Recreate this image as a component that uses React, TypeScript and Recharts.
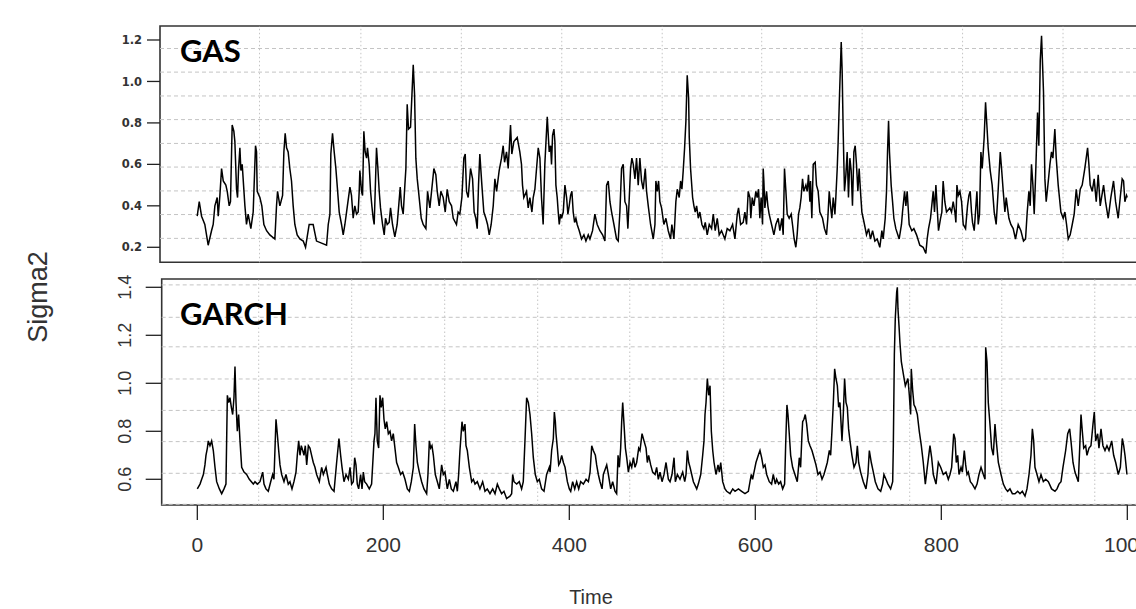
import { LineChart, Line, XAxis, YAxis, ReferenceLine, ReferenceArea } from 'recharts'

// GAS filtered variance, [time, sigma2]
const gasPoints: [number, number][] = [
  [0,.35],[2.2,.42],[4.7,.35],[8.2,.31],[11.8,.21],[15.4,.28],[17.2,.31],[19,.40],[21.5,.44],[22.6,.35],[24.4,.45],[26.2,.58],[28,.52],[30.8,.50],[32.3,.47],[34.4,.40],[35.8,.42],[37.6,.79],[39.4,.76],[40.5,.71],[42.3,.48],[43.4,.44],[44.4,.57],[45.9,.68],[47,.57],[48.4,.60],[51.3,.40],[53,.31],[54.8,.36],[57.7,.29],[60.2,.37],[62.7,.69],[63.8,.66],[64.5,.47],[67.4,.44],[69.5,.40],[71.7,.31],[74.6,.28],[78.1,.26],[83.5,.24],[85.3,.40],[86.4,.47],[88.9,.40],[91.8,.45],[93.2,.66],[94.6,.75],[96.1,.68],[97.8,.66],[99.6,.58],[101.4,.52],[103.2,.40],[105,.31],[107.5,.26],[110.4,.24],[114,.23],[116.5,.20],[118.6,.26],[120.4,.31],[124.7,.31],[126.5,.27],[128.3,.23],[133.7,.22],[139.1,.21],[140.9,.31],[142.7,.36],[143.7,.65],[145.5,.75],[147.3,.66],[149.1,.58],[150.5,.50],[152.7,.37],[155.2,.31],[157,.26],[158.8,.31],[160.6,.37],[164.2,.49],
  [165.9,.45],[167.7,.34],[169.5,.40],[171.3,.36],[173.1,.37],[174.2,.47],[174.9,.57],[176.7,.47],[177.8,.45],[179.2,.76],[180.6,.66],[182.1,.63],[183.1,.68],[184.9,.60],[186.4,.47],[187.8,.40],[189.2,.34],[190.3,.31],[191.4,.47],[192.8,.68],[194.3,.58],[195.7,.47],[197.1,.39],[199.3,.31],[201.1,.26],[202.5,.34],[204.3,.31],[206.4,.32],[207.9,.39],[210,.31],[212.5,.25],[215,.31],[216.5,.39],[218.3,.49],[219.7,.40],[221.5,.36],[223.3,.50],[224.4,.58],[225.8,.89],[227.2,.77],[229.4,.78],[232.3,1.08],[233.7,.94],[235.1,.63],[236.6,.53],[238,.47],[240.9,.34],[243,.31],[245.9,.29],[247.7,.47],[250.2,.39],[252,.47],[254.5,.58],[256.6,.55],[258.1,.47],[260.2,.40],[262,.47],[264.5,.44],[266.7,.37],[268.8,.48],[271,.42],[273.5,.40],[275.3,.34],[278.8,.31],[280.6,.37],[282.4,.36],[284.6,.44],[286.7,.63],[288.2,.65],[289.6,.47],[291.4,.44],[293.9,.58],[296.1,.53],[297.8,.37],[299.6,.34],[301.1,.29],[302.5,.50],[303.9,.65],[306.1,.50],[308.2,.37],[310.4,.34],[312.2,.31],[314,.26],[316.1,.31],[318.3,.40],[320.1,.53],[321.9,.47],[324.7,.57],[327.2,.63],[329,.69],[330.5,.61],[332.6,.66],[334.4,.58],[336.9,.79],[338.3,.65],[340.5,.71],[344.1,.73],[346.9,.66],[348.7,.60],[349.8,.50],[351.2,.44],[354.1,.47],[355.9,.39],[357.7,.44],[359.9,.37],[361.3,.44],[363.1,.48],[366.7,.68],[368.5,.63],[370.2,.44],[372,.31],[373.8,.60],[376.4,.83],[378.5,.66],
  [380,.69],[381,.60],[382.1,.74],[383.6,.77],[384.6,.71],[385.7,.50],[387.1,.44],[388.2,.37],[389.3,.31],[390.7,.36],[391.8,.34],[393.6,.37],[395.4,.50],[397.2,.44],[398.6,.36],[400,.40],[401.5,.45],[402.9,.47],[404.3,.37],[405.8,.32],[407.2,.34],[408.6,.31],[410.8,.28],[413.3,.24],[415.8,.26],[418,.23],[420.5,.26],[422.3,.24],[425.1,.28],[427.6,.36],[430.1,.31],[433,.28],[435.9,.26],[438.4,.23],[440.2,.50],[442,.52],[443.8,.42],[445.6,.37],[448.1,.31],[450.9,.24],[452.7,.23],[454.5,.37],[456.3,.58],[458.1,.60],[459.9,.42],[461.7,.40],[463.1,.29],[464.6,.44],[466,.58],[467.4,.63],[468.9,.60],[470.7,.53],[472.4,.63],[474.2,.50],[476,.63],[477.8,.52],[479.6,.48],[481.8,.58],[483.2,.47],[485,.40],[487.5,.31],[490.4,.24],[492.2,.31],[493.2,.52],[494.7,.47],[496.1,.52],[497.5,.42],[499.3,.39],[501.8,.31],[504,.34],[506.5,.28],[509,.24],[510.4,.31],[512.6,.24],[514.7,.42],[516.2,.48],[518.3,.44],[519.8,.52],[521.2,.48],[522.6,.57],[524.1,.68],[525.5,.81],[526.9,1.03],[528.4,.92],[529.1,.73],[530.5,.58],[532.7,.44],[534.1,.40],[535.5,.37],[537,.40],[538.8,.34],[540.5,.37],[542.7,.31],[544.8,.29],[546.3,.32],[548.4,.26],[550.6,.31],[553.1,.29],[554.9,.36],[557,.28],[559.2,.34],[561.3,.26],[563.8,.28],[567.4,.24],[569.9,.29],[572.8,.28],[575.7,.31],[578.2,.24],[580.7,.36],[582.1,.39],[584.3,.31],[587.1,.32],[588.9,.37],[590.7,.31],[592.5,.47],[594.3,.44],
  [595.3,.34],[596.8,.44],[598.6,.40],[600.7,.47],[602.1,.44],[603.6,.48],[605,.34],[606.4,.44],[607.9,.31],[608.6,.58],[609.3,.52],[610.4,.39],[612.2,.47],[613.6,.40],[615,.36],[617.6,.31],[620.1,.26],[622.2,.31],[624.7,.34],[626.5,.28],[628.7,.34],[630.1,.26],[631.5,.58],[633,.47],[634.4,.36],[636.5,.34],[638.7,.36],[640.1,.31],[641.9,.24],[643.7,.20],[645.1,.26],[646.6,.36],[648,.39],[649.4,.44],[650.9,.53],[652.3,.47],[654.5,.50],[655.9,.47],[657.3,.55],[658.8,.42],[659.5,.52],[660.9,.34],[662.4,.60],[664.5,.61],[665.9,.50],[667.7,.47],[669.5,.37],[672.4,.34],[674.5,.29],[676.7,.26],[678.1,.34],[679.6,.47],[681,.40],[682.4,.34],[683.9,.44],[685.7,.36],[686.7,.44],[688.2,.58],[689.2,.71],[690.7,.94],[692.5,1.19],[693.5,1.05],[694.6,.76],[696,.47],[697.5,.55],[698.9,.66],[700.3,.44],[701.8,.63],[703.2,.57],[704.6,.40],[706.1,.66],[707.5,.69],[708.9,.60],[710.4,.47],[711.8,.58],[713.2,.47],[714.7,.37],[716.1,.34],[717.5,.31],[719.7,.26],[721.9,.29],[724,.24],[726.2,.28],[728.7,.23],[731.2,.24],[734,.20],[736.2,.28],[737.6,.24],[739.8,.34],[741.2,.47],[742.3,.66],[743.4,.81],[744.4,.66],[746.2,.50],[747.7,.42],[749.1,.34],[751.2,.29],[754.8,.24],[757.3,.31],[758.4,.37],[760.6,.47],[762,.40],[763.4,.47],[765.6,.31],[768.4,.28],[770.6,.29],[773.5,.26],[777,.21],[780.6,.20],[783.5,.17],[784.9,.24],[786.4,.29],[788.5,.34],[791.4,.47],[792.8,.37],[794.3,.50],[797.1,.28],[799.3,.34],[800.7,.37],[802.1,.52],[803.9,.42],[805.7,.37],[809.3,.39],
  [811.1,.37],[812.9,.42],[814.7,.37],[815.8,.32],[816.9,.50],[818.3,.45],[820.1,.47],[821.9,.42],[823.7,.31],[826.2,.29],[828.3,.40],[829.8,.45],[831.2,.47],[832.6,.37],[833.7,.32],[835.5,.28],[836.9,.37],[838.4,.47],[839.8,.31],[841.2,.36],[842.7,.66],[844.1,.58],[846.2,.73],[847.7,.90],[849.1,.79],[850.5,.68],[852.7,.57],[854.8,.50],[857,.37],[859.1,.31],[861.3,.48],[863.5,.66],[864.9,.58],[866.7,.47],[868.5,.37],[869.9,.44],[871.3,.39],[872.8,.34],[874.9,.31],[877.4,.29],[879.9,.24],[882.8,.31],[885.7,.28],[888.5,.23],[890.7,.24],[892.5,.37],[894.3,.47],[895.7,.40],[897.1,.60],[898.6,.50],[900,.36],[901.4,.53],[903.6,.85],[905,.69],[906.5,1.10],[907.9,1.22],[909,1.08],[910,.95],[911.5,.53],[912.9,.42],[914.3,.48],[916.9,.60],[918.6,.66],[920.1,.63],[922.2,.77],[923.7,.63],[925.8,.50],[928.7,.37],[931.2,.34],[933,.37],[934.8,.31],[936.6,.24],[938.7,.26],[940.9,.31],[943,.36],[945.2,.48],[947.3,.40],[949.5,.48],[951.6,.50],[954.4,.58],[957.4,.68],[958.8,.60],[960.2,.50],[962.4,.47],[964.5,.53],[966.7,.42],[968.8,.55],[971,.40],[972.4,.44],[974.6,.50],[976.7,.42],[979.6,.34],[982.4,.44],[985.3,.52],[987.5,.42],[990.3,.34],[992.5,.44],[994.6,.53],[996.1,.52],[997.5,.42],[999.3,.45],[1000,.44],
]

// GARCH conditional variance, [time, sigma2]
const garchPoints: [number, number][] = [
  [0,.56],[2.9,.58],[4.7,.60],[6.5,.62],[8.2,.66],[9.3,.70],[10.8,.73],[11.8,.76],[13.6,.74],[15.4,.76],[17.2,.72],[19,.65],[20.8,.59],[23.7,.56],[26.2,.54],[28.7,.56],[30.8,.58],[32.3,.95],[33.7,.92],[35.1,.94],[36.6,.90],[38,.87],[39.4,.94],[40.5,1.07],[41.6,.92],[43,.80],[44.4,.87],[45.9,.76],[47.7,.65],[50.2,.63],[53,.62],[55.9,.60],[60.2,.58],[62,.59],[64.5,.58],[67.4,.59],[70.3,.63],[71.7,.58],[73.8,.56],[76.3,.55],[78.9,.59],[81,.62],[82.4,.60],[84.6,.85],[86,.79],[87.5,.72],[88.9,.66],[90.7,.62],[93.2,.59],[95.3,.62],[97.8,.58],[99.6,.59],[101.8,.56],[103.9,.59],[106.1,.63],[107.5,.70],[109,.76],[110.4,.70],[111.8,.74],[113.3,.72],[114.7,.70],[116.1,.74],[117.6,.66],[119.4,.74],[121.1,.73],[122.9,.70],[124.7,.67],[126.5,.65],[128.3,.62],[131.2,.59],[133.7,.65],[135.5,.62],[138.4,.65],[139.8,.62],[141.9,.58],[144.4,.56],[147,.55],[149.8,.67],[152.3,.77],[154.1,.70],[155.6,.65],[157.7,.59],[159.9,.62],[162.4,.60],[164.2,.65],
  [165.9,.58],[167.7,.59],[169.2,.69],[170.6,.66],[172,.58],[173.5,.56],[175.6,.62],[177.1,.56],[178.5,.63],[179.9,.59],[182.1,.58],[184.9,.56],[187.4,.58],[190,.76],[191,.79],[192.1,.94],[193.5,.76],[195,.73],[196.4,.95],[197.8,.90],[199.3,.94],[200.7,.85],[202.1,.81],[203.6,.84],[205.4,.79],[207.2,.80],[208.9,.76],[210.7,.79],[212.5,.73],[214.3,.67],[216.1,.65],[218.6,.62],[220.8,.63],[223.3,.60],[225.8,.56],[228,.55],[230.1,.59],[232.3,.65],[233.7,.83],[235.1,.74],[236.6,.67],[238.7,.63],[241.2,.59],[243.7,.56],[246.6,.54],[248,.62],[249.5,.76],[250.9,.73],[252.3,.74],[253.8,.70],[255.9,.62],[258.1,.59],[260.2,.56],[262.7,.66],[264.5,.62],[266.3,.63],[268.8,.56],[271,.60],[273.1,.56],[275.3,.55],[278.1,.59],[279.6,.55],[281,.62],[282.4,.72],[284.6,.84],[286,.80],[287.8,.83],[288.9,.74],[290.3,.72],[292.5,.65],[295,.59],[296.8,.60],[298.6,.58],[301.1,.59],[303.9,.56],[306.8,.59],[309.3,.55],[311.8,.56],[314.7,.54],[317.6,.56],[320.1,.54],[322.6,.58],[324.7,.56],[327.2,.54],[329.7,.55],[332.6,.52],[336.2,.53],[338,.54],[339.1,.62],[340.5,.59],[343.4,.58],[346.2,.59],[348.7,.56],[350.5,.59],[352.3,.76],[354.1,.94],[355.9,.92],[357.7,.87],[359.5,.79],[361.3,.69],[363.4,.62],[365.6,.59],[367.7,.60],[370.2,.56],[372.8,.55],[375.6,.62],[378.5,.65],
  [379.3,.63],[381,.72],[382.8,.77],[383.9,.88],[385,.84],[385.7,.79],[387.1,.73],[388.6,.66],[390,.67],[391.8,.70],[393.6,.67],[395.4,.65],[397.9,.59],[400,.56],[401.5,.55],[403.6,.59],[405.8,.56],[407.9,.59],[410.1,.56],[412.2,.59],[415.1,.58],[418,.60],[420.5,.59],[422.3,.63],[424.1,.74],[425.8,.72],[428,.70],[429.4,.66],[431.2,.62],[433,.59],[435.2,.56],[436.6,.62],[440.2,.66],[442,.62],[444.5,.56],[446.6,.59],[449.1,.55],[450.9,.54],[452.4,.70],[453.8,.65],[455.2,.73],[456.3,.84],[457.4,.92],[458.8,.83],[460.3,.73],[461.7,.69],[463.5,.63],[465.3,.67],[467.1,.65],[468.9,.69],[470.6,.65],[472.4,.67],[474.6,.73],[476,.72],[478.2,.79],[480.3,.76],[482.5,.73],[483.9,.67],[485.3,.70],[487.5,.66],[489.6,.63],[492.2,.62],[493.9,.65],[495.7,.60],[497.5,.63],[499.7,.59],[501.8,.62],[504,.67],[506.5,.60],[508.3,.59],[510.4,.62],[512.6,.69],[514,.59],[516.2,.62],[519,.60],[521.9,.63],[524.1,.59],[525.5,.62],[526.9,.72],[528.4,.67],[529.8,.65],[533.4,.59],[537,.56],[538.7,.58],[541.3,.62],[543.4,.70],[544.8,.76],[545.9,.87],[547,.92],[548.4,1.02],[549.9,.95],[551.3,.99],[552.7,.80],[554.2,.72],[555.6,.67],[557.7,.62],[559.9,.66],[561.3,.63],[562.8,.67],[564.9,.59],[567.4,.56],[569.2,.55],[572.8,.54],[575.7,.56],[578.2,.55],[581.8,.56],[585.3,.55],[588.9,.54],[592.5,.55],
  [594.3,.59],[595.7,.62],[597.1,.60],[598.6,.63],[600.7,.67],[603.2,.70],[605,.72],[606.8,.69],[608.6,.65],[610.4,.66],[612.2,.62],[615,.59],[617.5,.58],[619.3,.62],[621.5,.58],[622.9,.60],[625.1,.58],[627.2,.59],[629.4,.56],[631.5,.58],[632.6,.74],[634,.91],[635.1,.87],[636.5,.79],[638,.70],[640.1,.65],[642.6,.62],[645.1,.59],[647.3,.69],[648.7,.65],[650.2,.79],[650.9,.84],[652.3,.85],[653.7,.87],[655.2,.83],[657,.76],[658.8,.74],[660.9,.72],[663.1,.69],[665.2,.66],[667.4,.62],[669.5,.63],[671.7,.60],[673.8,.62],[676,.65],[677.4,.67],[679.6,.72],[681,.70],[682.4,.80],[683.9,.92],[685.3,1.06],[686.7,1.02],[688.2,.99],[689.6,.90],[691,.92],[692.5,.81],[693.2,.76],[694.6,.87],[696,1.02],[697.5,.92],[698.9,.90],[700.3,.81],[701.8,.76],[703.9,.70],[706.1,.65],[708.2,.67],[709.7,.74],[711.1,.67],[713.2,.63],[716.1,.59],[719,.56],[721.1,.62],[722.6,.72],[724.7,.67],[726.9,.63],[729,.59],[731.9,.56],[734.8,.55],[736.9,.58],[738.3,.62],[740.5,.60],[742.6,.58],[745.5,.56],[747.7,.59],[748.4,.74],[749.5,1.12],[750.5,1.27],[752,1.38],[752.7,1.40],[753.4,1.31],[754.5,1.24],[755.5,1.17],[757,1.09],[759.1,1.04],[761.3,.99],[764.1,1.02],[765.6,.95],[767,.87],[767.7,1.06],[769.2,.97],[770.6,.91],[772,.90],[774.2,.87],[776.3,.80],[778.5,.74],[780.6,.67],[782.8,.58],[784.9,.65],[787.8,.74],[789.6,.69],[791.4,.62],[794.3,.58],[796.8,.67],[799.3,.65],[802.1,.62],[805,.63],[807.5,.60],
  [809.3,.62],[811.1,.65],[813.3,.79],[814.7,.77],[816.1,.67],[817.6,.70],[819,.62],[821.2,.65],[822.6,.63],[824.7,.72],[826.2,.66],[827.6,.62],[829,.63],[831.2,.59],[833.3,.58],[836.2,.56],[838.4,.58],[840.5,.62],[842.7,.65],[845.2,.62],[847,.60],[847.7,1.15],[849.1,1.09],[850.5,.92],[852.3,.83],[854.1,.73],[855.9,.70],[857.7,.83],[859.1,.76],[861.3,.67],[864.2,.62],[866.7,.58],[869.2,.56],[871.3,.55],[873.8,.56],[876.4,.54],[879.2,.54],[882.1,.55],[884.6,.54],[887.1,.55],[890,.53],[892.1,.56],[894.3,.62],[896.4,.70],[897.9,.81],[899.3,.76],[900.7,.65],[902.9,.62],[905,.59],[907.2,.62],[909.7,.59],[912.2,.60],[915.1,.59],[918.6,.56],[922.2,.55],[924.4,.56],[926.5,.58],[928.7,.59],[930.8,.65],[933.7,.72],[935.9,.79],[938,.81],[939.4,.76],[941.6,.67],[943.7,.63],[947.3,.59],[948.8,.73],[950.2,.87],[951.6,.80],[953.1,.73],[955.2,.74],[956.6,.70],[958.8,.73],[960.9,.74],[963.1,.83],[964.5,.88],[966,.76],[968.1,.79],[969.5,.73],[971.7,.81],[973.8,.74],[976,.72],[978.1,.74],[980.3,.72],[983.2,.76],[985.3,.70],[987.5,.67],[990.3,.62],[992.5,.65],[994.6,.77],[996.1,.74],[997.5,.70],[999.6,.62],
]

const timeTicks = [0, 200, 400, 600, 800, 1000]
const gasTicks = [0.2, 0.4, 0.6, 0.8, 1.0, 1.2]
const garchTicks = [0.6, 0.8, 1.0, 1.2, 1.4]

// the grid lines of each panel do not follow the ticks
const gasGridY = [0.243, 0.358, 0.472, 0.587, 0.701, 0.816, 0.93, 1.045, 1.159]
const gasGridX = [67, 176, 284, 392, 500, 607, 715, 823, 931, 1039]
const garchGridY = [0.496, 0.625, 0.757, 0.887, 1.018, 1.152, 1.275, 1.41]
const garchGridX = [66, 166, 266, 366, 465, 566, 666, 766, 865, 965]

const gasX: [number, number] = [-40, 1040]
const gasY: [number, number] = [0.1276, 1.2675]
const garchX: [number, number] = [-38.3, 1041.7]
const garchY: [number, number] = [0.4929, 1.4346]

const gasData = gasPoints.map(([t, s]) => ({ t, s }))
const garchData = garchPoints.map(([t, s]) => ({ t, s }))

const font = '"Liberation Sans", Arial, sans-serif'
const gridColor = '#c4c4c4'

const RotatedTick = (props: any) => {
  const { x, y, payload } = props
  return (
    <text x={x} y={y} transform={`rotate(-90 ${x} ${y})`} textAnchor="middle"
      fontSize={18} fill="#333" fontFamily={font}>
      {payload.value.toFixed(1)}
    </text>
  )
}

export default function App() {
  return (
    <div style={{ position: 'fixed', left: 0, top: 0, width: 1136, height: 609, overflow: 'hidden', background: '#fff' }}>
      <div style={{ position: 'absolute', left: 0, top: 0 }}>
        <LineChart width={1200} height={270} data={gasData} margin={{ top: 26, right: 35.6, left: 100, bottom: 7.7 }}>
          <XAxis dataKey="t" type="number" domain={gasX} allowDataOverflow hide />
          <YAxis type="number" domain={gasY} allowDataOverflow ticks={gasTicks} width={60}
            axisLine={false} tickSize={13} tickMargin={5}
            tickLine={{ stroke: '#222', strokeWidth: 1.3 }}
            tickFormatter={(v: number) => v.toFixed(1)}
            tick={{ fontSize: 11.5, fill: '#333', fontFamily: '"DejaVu Sans", sans-serif', fontWeight: 'bold' }} />
          {gasGridY.map((v) => (
            <ReferenceLine key={'gy' + v} y={v} stroke={gridColor} strokeDasharray="4 3" />
          ))}
          {gasGridX.map((v) => (
            <ReferenceLine key={'gx' + v} x={v} stroke={gridColor} strokeDasharray="1.5 2.5" />
          ))}
          <Line dataKey="s" type="linear" stroke="#000" strokeWidth={1.5} dot={false} isAnimationActive={false} />
          <ReferenceArea x1={gasX[0]} x2={gasX[1]} y1={gasY[0]} y2={gasY[1]} fill="none" stroke="#333" strokeWidth={1.6} ifOverflow="visible" />
        </LineChart>
      </div>
      <div style={{ position: 'absolute', left: 0, top: 0 }}>
        <LineChart width={1200} height={609} data={garchData} margin={{ top: 279, right: 33.9, left: 101.7, bottom: 44 }}>
          <XAxis dataKey="t" type="number" domain={garchX} allowDataOverflow ticks={timeTicks} interval={0}
            height={60} axisLine={false} tickSize={15} tickMargin={17}
            tickLine={{ stroke: '#222', strokeWidth: 1.3 }}
            tick={{ fontSize: 21, fill: '#333', fontFamily: font }} />
          <YAxis type="number" domain={garchY} allowDataOverflow ticks={garchTicks} width={60}
            axisLine={false} tickSize={16} tickMargin={15}
            tickLine={{ stroke: '#222', strokeWidth: 1.3 }}
            tick={<RotatedTick />} />
          {garchGridY.map((v) => (
            <ReferenceLine key={'ry' + v} y={v} stroke={gridColor} strokeDasharray="4 3" />
          ))}
          {garchGridX.map((v) => (
            <ReferenceLine key={'rx' + v} x={v} stroke={gridColor} strokeDasharray="1.5 2.5" />
          ))}
          <Line dataKey="s" type="linear" stroke="#000" strokeWidth={1.5} dot={false} isAnimationActive={false} />
          <ReferenceArea x1={garchX[0]} x2={garchX[1]} y1={garchY[0]} y2={garchY[1]} fill="none" stroke="#333" strokeWidth={1.6} ifOverflow="visible" />
        </LineChart>
      </div>
      <svg width={1136} height={609} style={{ position: 'absolute', left: 0, top: 0, pointerEvents: 'none' }}>
        <text x={180} y={62} fontSize={31} fontWeight="bold" fontFamily="Lato, sans-serif" fill="#000">GAS</text>
        <text x={180} y={325} fontSize={31} fontWeight="bold" fontFamily="Lato, sans-serif" fill="#000">GARCH</text>
        <text x={47} y={297} transform="rotate(-90 47 297)" textAnchor="middle" fontSize={27} fill="#333" fontFamily={font}>Sigma2</text>
        <text x={591} y={604} textAnchor="middle" fontSize={20} fill="#333" fontFamily={font}>Time</text>
      </svg>
    </div>
  )
}
